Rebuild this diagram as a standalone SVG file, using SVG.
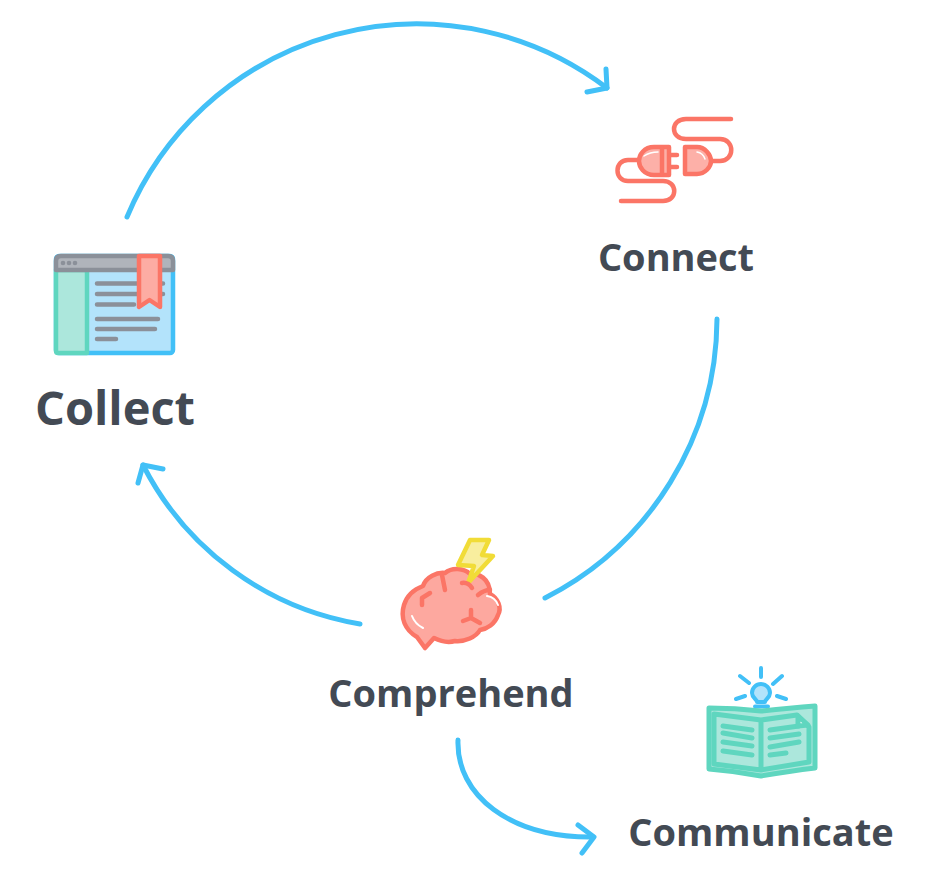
<svg xmlns="http://www.w3.org/2000/svg" width="950" height="872" viewBox="0 0 950 872">
<style>
.arc{fill:none;stroke:#42c0f7;stroke-width:5;stroke-linecap:round;stroke-linejoin:round}
.lbl{font-family:"Open Sans","Noto Sans",sans-serif;font-weight:700;fill:#434a54;text-anchor:middle}
.r{stroke:#fb7566;stroke-width:4.500;stroke-linecap:round;stroke-linejoin:round}
.g{stroke:#8b9099;stroke-width:4.500;stroke-linecap:round;fill:none}
.t{stroke:#5fd6bf;stroke-width:5;stroke-linecap:round;stroke-linejoin:round}
.b{stroke:#42c0f7;stroke-width:4;stroke-linecap:round;stroke-linejoin:round}
</style>
<rect width="950" height="872" fill="#fff"/>
<g id="connectors">
<path class="arc" d="M127 217A314 314 0 0 1 607 88"/>
<path class="arc" d="M606 69L607 88L587 92"/>
<path class="arc" d="M717 319A315 315 0 0 1 545 598"/>
<path class="arc" d="M360 624A299 299 0 0 1 143 465"/>
<path class="arc" d="M138 483L143 465L163 469"/>
<path class="arc" d="M458 740C456 795 510 838 593 837"/>
<path class="arc" d="M578 825L594 837L582 853"/>
</g>
<g id="collect">
<rect x="56" y="256" width="117" height="97" rx="3" fill="#b3e3fb" stroke="#42c0f7" stroke-width="4.500"/>
<path d="M56 270H87V353H58Q56 353 56 351Z" fill="#ace7dc" stroke="#5fd6bf" stroke-width="4.500" stroke-linejoin="round"/>
<path d="M56 270V261Q56 256 61 256H168Q173 256 173 261V270Z" fill="#b0b4bb" stroke="#8b9099" stroke-width="4.500" stroke-linejoin="round"/>
<circle cx="63" cy="263" r="2.300" fill="#8b9099"/><circle cx="69" cy="263" r="2.300" fill="#8b9099"/><circle cx="75" cy="263" r="2.300" fill="#8b9099"/>
<path class="g" d="M97 283.500H163M97 294H163M97 304.500H134M97 319H158M97 329H155M97 339H116"/>
<path d="M139 256H160V307L149.500 300L139 307Z" fill="#fdaca3" stroke="#fb7566" stroke-width="4.500" stroke-linejoin="round"/>
<text class="lbl" x="115" y="425" font-size="47">Collect</text>
</g>
<g id="connect">
<path class="r" fill="none" d="M731 119H686C670 119 670 139 686 139H720C735 139 735 161 720 161H710"/>
<path class="r" fill="none" d="M640 160H628C614 160 614 181 628 181H663C678 181 678 201 663 201H621"/>
<path class="r" fill="#fdb0a8" d="M669 147H654C644 147 639 155 639 161C639 167 644 175 654 175H669Z"/>
<path class="r" fill="none" d="M662 148V174M670 155H677M670 167H677"/>
<path d="M644 156Q650 152 658 152" fill="none" stroke="#fff" stroke-width="1.500" stroke-linecap="round"/>
<path class="r" fill="#fdb0a8" d="M685 147H697C705 147 711 155 711 161C711 167 705 174 697 174H685Z"/>
<path d="M697 152Q703 153 705 159" fill="none" stroke="#fff" stroke-width="1.500" stroke-linecap="round"/>
<text class="lbl" x="676" y="271" font-size="38">Connect</text>
</g>
<g id="comprehend">
<path class="r" fill="#fda89f" d="M417 637C405 630 400 618 404 605C407 595 415 589 423 586C426 577 437 572 445 573C452 567 464 568 470 574C478 573 490 578 490 594C498 598 502 608 498 615C495 624 487 629 480 630C476 637 465 642 455 641C448 643 440 641 434 638L425 648Z"/>
<path d="M470 540H489L482 555L493 556L468 583L474 566L458 565Z" fill="#f8ee9e" stroke="#f1dc37" stroke-width="4.500" stroke-linejoin="round"/>
<path class="r" fill="none" stroke-width="3.500" d="M442 575L445 590M430 593L422 598L422 605M462 583Q468 582 472 588M478 595Q484 590 490 590M471 610V618L463 621M471 618L480 623"/>
<path d="M412 616Q415 624 423 628M487 596Q495 597 498 605" fill="none" stroke="#fff" stroke-width="2" stroke-linecap="round"/>
<text class="lbl" x="451" y="707" font-size="38">Comprehend</text>
</g>
<g id="communicate">
<path class="b" fill="none" stroke-width="4" d="M761 668V677M740 676L749 683M782 676L773 684M736 699L745 696M786 699L777 696"/>
<path class="b" fill="#b3e3fb" d="M757 702C757 699 752 698 752 693A9 9 0 1 1 770 693C770 698 765 699 765 702Z"/>
<path class="b" d="M755 706.500H768" fill="none" stroke-width="5.500"/>
<path class="t" fill="#ace7dc" d="M709 708Q735 708 761 711Q790 708 815 706V768Q790 771 761 776Q735 771 709 769Z"/>
<path class="t" fill="none" stroke-width="3.500" d="M714 714L761 720V770L714 764ZM761 720L797 715L809 727V762L761 770"/>
<path class="t" fill="none" stroke-width="4" d="M723 726L752 730M723 733L752 738M723 742L752 746M723 751L752 755M770 730L799 726M770 738L799 734M770 747L799 742M770 755L786 753"/>
<path class="t" fill="#fff" stroke-width="2.500" d="M798 716V726L808 725Z"/>
<text class="lbl" x="761" y="846" font-size="38">Communicate</text>
</g>
</svg>
